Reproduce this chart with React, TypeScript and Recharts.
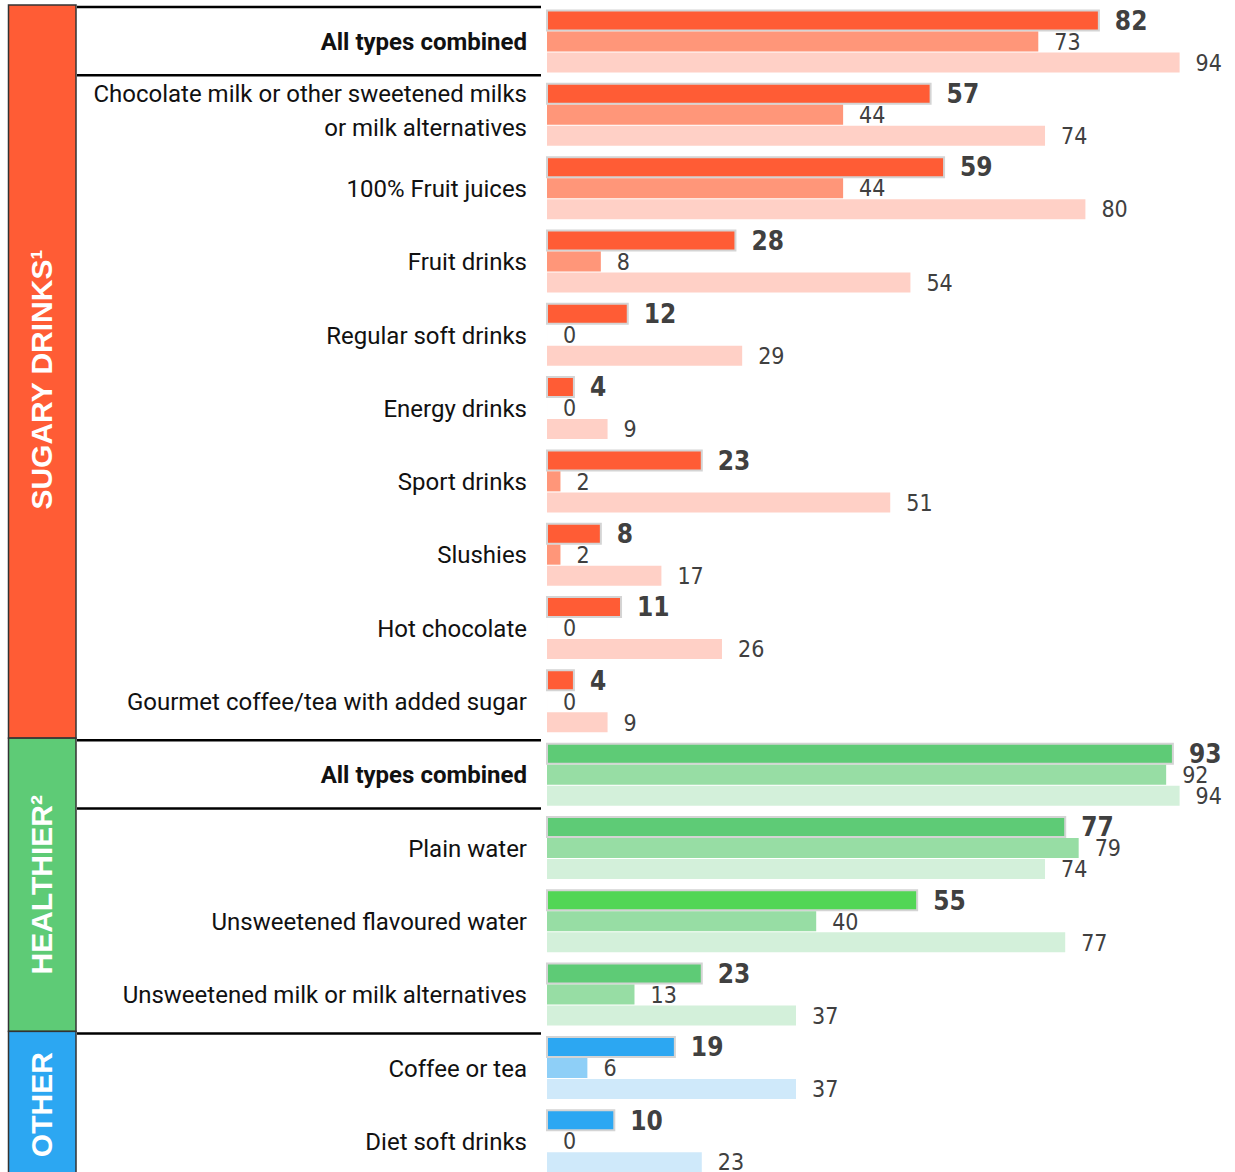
import React from "react";
import { BarChart, Bar, XAxis, YAxis, Cell, LabelList } from "recharts";

const categories = [
  "All types combined",
  "Chocolate milk or other sweetened milks\nor milk alternatives",
  "100% Fruit juices",
  "Fruit drinks",
  "Regular soft drinks",
  "Energy drinks",
  "Sport drinks",
  "Slushies",
  "Hot chocolate",
  "Gourmet coffee/tea with added sugar",
  "All types combined",
  "Plain water",
  "Unsweetened flavoured water",
  "Unsweetened milk or milk alternatives",
  "Coffee or tea",
  "Diet soft drinks",
];

const groupOf = [
  "sugary", "sugary", "sugary", "sugary", "sugary", "sugary", "sugary", "sugary", "sugary", "sugary",
  "healthier", "healthier", "healthier", "healthier",
  "other", "other",
];

const groupNames = ["sugary", "healthier", "other"];
const groupLabels = ["SUGARY DRINKS\u00B9", "HEALTHIER\u00B2", "OTHER"];

const seriesOverall = [82, 57, 59, 28, 12, 4, 23, 8, 11, 4, 93, 77, 55, 23, 19, 10];
const seriesSecond = [73, 44, 44, 8, 0, 0, 2, 2, 0, 0, 92, 79, 40, 13, 6, 0];
const seriesThird = [94, 74, 80, 54, 29, 9, 51, 17, 26, 9, 94, 74, 77, 37, 37, 23];

const palette: Record<string, { dark: string; mid: string; light: string }> = {
  sugary: { dark: "#FF5C35", mid: "#FF9679", light: "#FFD0C6" },
  healthier: { dark: "#5ECB76", mid: "#97DDA4", light: "#D3F0DA" },
  other: { dark: "#2CA7F2", mid: "#8ECFF7", light: "#CFE9FA" },
};
const darkOverride: Record<string, string> = {
  "Unsweetened flavoured water": "#52D655",
};

const data = categories.map((name, i) => ({
  name,
  overall: seriesOverall[i],
  second: seriesSecond[i],
  third: seriesThird[i],
}));

const CHART_W = 1235;
const MARGIN = { top: 5, right: 15, bottom: 0, left: 0 };
const PLOT_H = 1173;
const CHART_H = PLOT_H + MARGIN.top + MARGIN.bottom;
const BAND = PLOT_H / categories.length;
const AXIS_W = 547;

const LABEL_FONT = "Roboto, 'Noto Sans', sans-serif";
const NUM_FONT = "'Liberation Sans Narrow', 'DejaVu Sans Condensed', sans-serif";
const GROUP_FONT = "'Liberation Sans', Arial, sans-serif";

const CategoryTick = (props: any) => {
  const { x, y, payload } = props;
  const index: number = props.index ?? payload?.index ?? 0;
  const label: string = categories[index] ?? String(payload?.value ?? "");
  const lines = label.split("\n");
  const isAll = label === "All types combined";
  const group = groupOf[index];
  const groupStart = index === 0 || groupOf[index - 1] !== group;
  const bandTop = y - BAND / 2;
  const bandBottom = y + BAND / 2;
  const textX = x - 20;
  const lineStart = 77;
  const lineEnd = x - 6;

  let groupEl: React.ReactNode = null;
  if (groupStart) {
    const count = groupOf.filter((g) => g === group).length;
    const h = count * BAND;
    const gi = groupNames.indexOf(group);
    const cx = 41;
    const cy = bandTop + h / 2 + (gi === 0 ? 8 : 0);
    groupEl = (
      <g>
        <rect x={8.5} y={bandTop} width={67.5} height={h} fill={palette[group].dark} stroke="#333" strokeWidth={1.5} />
        <text
          x={cx}
          y={cy}
          transform={`rotate(-90 ${cx} ${cy})`}
          textAnchor="middle"
          dominantBaseline="central"
          fill="#fff"
          fontFamily={GROUP_FONT}
          fontWeight="bold"
          fontSize={30}
        >
          {groupLabels[gi]}
        </text>
        <line x1={lineStart} x2={lineEnd} y1={bandTop + 2} y2={bandTop + 2} stroke="#000" strokeWidth={2.5} />
      </g>
    );
  }

  const lineH = 34;
  const firstDy = lines.length > 1 ? -((lines.length - 1) * lineH) / 2 - 5 : 0;

  return (
    <g>
      {groupEl}
      {isAll && (
        <line x1={lineStart} x2={lineEnd} y1={bandBottom - 3} y2={bandBottom - 3} stroke="#000" strokeWidth={2.5} />
      )}
      <text
        x={textX}
        y={y}
        textAnchor="end"
        fill="#111"
        fontFamily={LABEL_FONT}
        fontWeight={isAll ? 700 : 400}
        fontSize={24}
      >
        {lines.map((ln, k) => (
          <tspan key={k} x={textX} y={y + firstDy + k * lineH} dy="0.36em">
            {ln}
          </tspan>
        ))}
      </text>
    </g>
  );
};

const makeLabel = (bold: boolean) => (props: any) => {
  const { x, y, width, height, value } = props;
  return (
    <text
      x={Number(x) + Number(width) + 16}
      y={Number(y) + Number(height) / 2}
      dy="0.36em"
      textAnchor="start"
      fill="#404040"
      fontFamily={NUM_FONT}
      fontWeight={bold ? 700 : 400}
      fontSize={bold ? 26 : 23}
    >
      {String(value)}
    </text>
  );
};

export default function App() {
  return (
    <div
      style={{
        position: "fixed",
        top: 0,
        left: 0,
        width: CHART_W,
        height: 1172,
        overflow: "hidden",
        background: "#fff",
      }}
    >
      <BarChart
        width={CHART_W}
        height={CHART_H}
        data={data}
        layout="vertical"
        margin={MARGIN}
        barCategoryGap={5.5}
        barGap={1}
      >
        <XAxis type="number" domain={[0, 100]} hide />
        <YAxis
          type="category"
          dataKey="name"
          width={AXIS_W}
          axisLine={false}
          tickLine={false}
          tickSize={0}
          tickMargin={0}
          interval={0}
          tick={<CategoryTick />}
        />
        <Bar dataKey="overall" isAnimationActive={false} stroke="#d4d4d4" strokeWidth={2}>
          {categories.map((c, i) => (
            <Cell key={i} fill={darkOverride[c] ?? palette[groupOf[i]].dark} />
          ))}
          <LabelList dataKey="overall" content={makeLabel(true)} />
        </Bar>
        <Bar dataKey="second" isAnimationActive={false} minPointSize={0.01}>
          {categories.map((c, i) => (
            <Cell key={i} fill={palette[groupOf[i]].mid} />
          ))}
          <LabelList dataKey="second" content={makeLabel(false)} />
        </Bar>
        <Bar dataKey="third" isAnimationActive={false} minPointSize={0.01}>
          {categories.map((c, i) => (
            <Cell key={i} fill={palette[groupOf[i]].light} />
          ))}
          <LabelList dataKey="third" content={makeLabel(false)} />
        </Bar>
      </BarChart>
    </div>
  );
}
